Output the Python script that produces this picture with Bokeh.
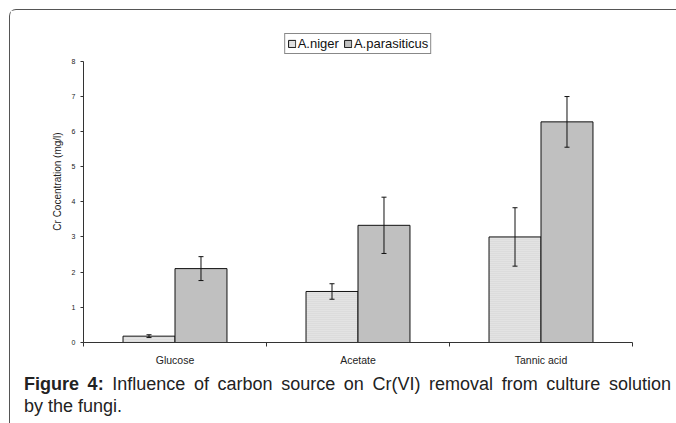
from bokeh.plotting import figure
from bokeh.models import (ColumnDataSource, Whisker, FixedTicker, Legend, LegendItem,
                          Range1d, Div)
from bokeh.layouts import column
from bokeh.embed import file_html
from bokeh.resources import INLINE
import numpy as np

categories = ["Glucose", "Acetate", "Tannic acid"]
series_names = ["A.niger", "A.parasiticus"]
niger = [0.18, 1.45, 3.0]
niger_err = [0.04, 0.22, 0.83]
parasiticus = [2.1, 3.33, 6.27]
parasiticus_err = [0.34, 0.8, 0.72]
y_ticks = [0, 1, 2, 3, 4, 5, 6, 7, 8]
y_label = "Cr Cocentration (mg/l)"
caption_bold = "Figure 4:"
caption_line1 = "Influence of carbon source on Cr(VI) removal from culture solution"
caption_line2 = "by the fungi."

FW, FH = 664, 358
p = figure(width=FW, height=FH, output_backend="svg", toolbar_location=None,
           x_range=Range1d(0, 3), y_range=Range1d(0, 9.151),
           min_border_left=73, min_border_right=FW - 622, min_border_top=10,
           min_border_bottom=FH - 336)
p.outline_line_color = None
p.grid.visible = False
p.background_fill_color = "white"
p.border_fill_color = "white"

centers = np.arange(len(categories)) + 0.5
bw = 0.284
src_n = ColumnDataSource(dict(x=centers - bw / 2, top=niger,
                              lo=np.array(niger) - np.array(niger_err),
                              hi=np.array(niger) + np.array(niger_err)))
src_p = ColumnDataSource(dict(x=centers + bw / 2, top=parasiticus,
                              lo=np.array(parasiticus) - np.array(parasiticus_err),
                              hi=np.array(parasiticus) + np.array(parasiticus_err)))

rn = p.vbar(x="x", top="top", width=bw, source=src_n, fill_color="#e3e3e3",
            line_color="#111111", line_width=1, hatch_pattern="horizontal_line",
            hatch_color="#d0d0d0", hatch_scale=2, hatch_weight=0.7)
rp = p.vbar(x="x", top="top", width=bw, source=src_p, fill_color="#c0c0c0",
            line_color="#111111", line_width=1)

for s in (src_n, src_p):
    w = Whisker(source=s, base="x", upper="hi", lower="lo", line_color="#111111",
                line_width=1, level="overlay")
    w.upper_head.size = 5
    w.lower_head.size = 5
    w.upper_head.line_color = "#111111"
    w.lower_head.line_color = "#111111"
    p.add_layout(w)

p.xaxis.ticker = FixedTicker(ticks=list(centers), minor_ticks=list(np.arange(len(categories) + 1)))
p.xaxis.major_label_overrides = {float(c): n for c, n in zip(centers, categories)}
p.xaxis.major_tick_out = 0
p.xaxis.major_tick_in = 0
p.xaxis.minor_tick_out = 4
p.xaxis.minor_tick_in = 0
p.xaxis.major_label_text_font = "Liberation Sans"
p.xaxis.major_label_text_font_size = "10.5px"
p.xaxis.major_label_text_color = "#222222"
p.xaxis.major_label_standoff = 7
p.xaxis.axis_line_color = "#333333"
p.xaxis.minor_tick_line_color = "#333333"

p.yaxis.ticker = FixedTicker(ticks=y_ticks, minor_ticks=[])
p.yaxis.bounds = (y_ticks[0], y_ticks[-1])
p.yaxis.major_tick_out = 3
p.yaxis.major_tick_in = 0
p.yaxis.major_label_text_font = "Liberation Sans"
p.yaxis.major_label_text_font_size = "7px"
p.yaxis.major_label_text_color = "#222222"
p.yaxis.major_label_standoff = 5
p.yaxis.axis_label = y_label
p.yaxis.axis_label_text_font = "Liberation Sans"
p.yaxis.axis_label_text_font_size = "10px"
p.yaxis.axis_label_text_font_style = "normal"
p.yaxis.axis_label_text_color = "#222222"
p.yaxis.axis_label_standoff = 6
p.yaxis.axis_line_color = "#333333"
p.yaxis.major_tick_line_color = "#333333"

legend = Legend(items=[LegendItem(label=series_names[0], renderers=[rn]),
                       LegendItem(label=series_names[1], renderers=[rp])],
                orientation="horizontal", location="top_center",
                label_text_font="Liberation Sans", label_text_font_size="13px",
                label_text_color="#111111",
                label_height=13, label_standoff=2, glyph_width=9, glyph_height=9,
                spacing=4, padding=2, margin=13,
                border_line_color="#111111", border_line_width=1,
                background_fill_alpha=1)
p.add_layout(legend, "center")

cap = Div(width=FW, height=53, text=(
    '<div style="font-family:\'Liberation Sans\',Arial,sans-serif;font-size:18px;'
    'line-height:22px;color:#222222;width:647px;margin-left:9px;">'
    '<div style="width:647px;text-align:justify;text-align-last:justify;">'
    f'<b>{caption_bold}</b> {caption_line1}</div>'
    f'<div style="text-align:left;">{caption_line2}</div></div>'))

layout = column(p, cap, spacing=0, margin=(9, 0, 0, 9),
                styles={"border-left": "1px solid #555555", "border-top": "1px solid #555555",
                        "border-top-left-radius": "7px"})

open("out.html", "w").write(file_html(layout, INLINE))
